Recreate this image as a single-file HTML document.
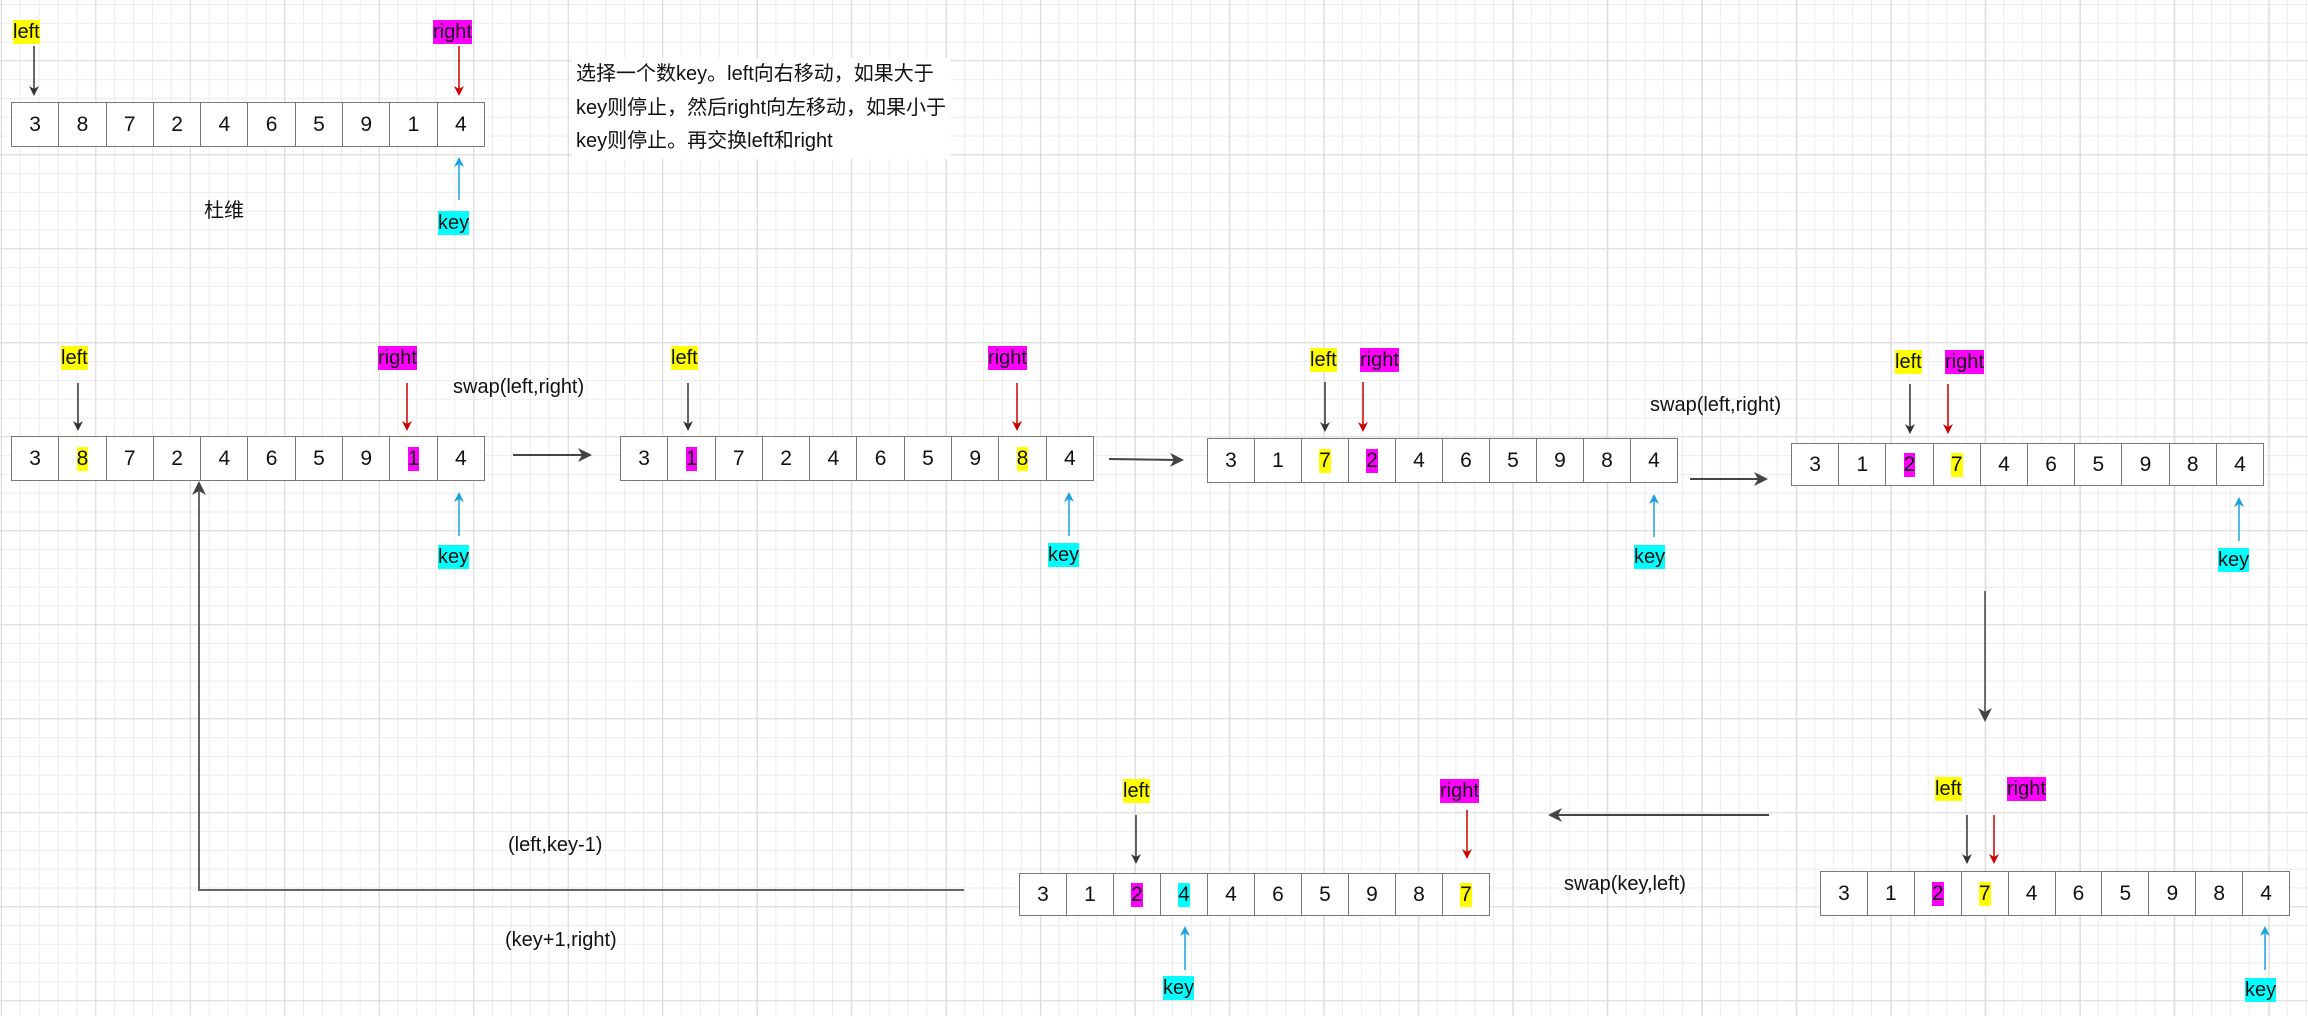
<!DOCTYPE html>
<html><head><meta charset="utf-8"><style>
body{margin:0;width:2308px;height:1016px;overflow:hidden;position:relative;background-color:#fff;
background-image:linear-gradient(to right,#d9d9d9 1px,transparent 1px),linear-gradient(to bottom,#d9d9d9 1px,transparent 1px),linear-gradient(to right,#ececec 1px,transparent 1px),linear-gradient(to bottom,#ececec 1px,transparent 1px);
background-size:94.5px 94px,94.5px 94px,18.9px 18.8px,18.9px 18.8px;
background-position:0.8px 60.3px,0.8px 60.3px,0.8px 4px,0.8px 4px;
font-family:"Liberation Sans","Noto Sans CJK SC",sans-serif;color:#111}
.a{position:absolute;display:flex;border:1.5px solid #777;background:#fff;box-sizing:border-box}
.a div{flex:1;border-left:1.5px solid #777;display:flex;align-items:center;justify-content:center;font-size:21px}
.a div:first-child{border-left:none}
.t{position:absolute;font-size:20px;line-height:24px;white-space:nowrap}
.y{background:#ff0}.m{background:#f0f}.c{background:#0ff}
svg{position:absolute;left:0;top:0}
</style></head><body>
<svg width="2308" height="1016">
<defs>
<marker id="k" markerWidth="10" markerHeight="10" refX="8" refY="5" orient="auto" markerUnits="userSpaceOnUse"><path d="M0,0 L10,5 L0,10 L3,5z" fill="#333"/></marker>
<marker id="r" markerWidth="10" markerHeight="10" refX="8" refY="5" orient="auto" markerUnits="userSpaceOnUse"><path d="M0,0 L10,5 L0,10 L3,5z" fill="#c00"/></marker>
<marker id="b" markerWidth="10" markerHeight="10" refX="8" refY="5" orient="auto" markerUnits="userSpaceOnUse"><path d="M0,0 L10,5 L0,10 L3,5z" fill="#1ba1e2"/></marker>
<marker id="g" markerWidth="14" markerHeight="14" refX="12" refY="7" orient="auto" markerUnits="userSpaceOnUse"><path d="M0,0 L14,7 L0,14 L4,7z" fill="#444"/></marker>
</defs>
<g stroke-width="1.5" fill="none">
<line x1="34" y1="46" x2="34" y2="94" stroke="#333" marker-end="url(#k)"/>
<line x1="459" y1="46" x2="459" y2="94" stroke="#c00" marker-end="url(#r)"/>
<line x1="459" y1="200" x2="459" y2="159" stroke="#1ba1e2" marker-end="url(#b)"/>
<line x1="78" y1="383" x2="78" y2="429" stroke="#333" marker-end="url(#k)"/>
<line x1="407" y1="383" x2="407" y2="429" stroke="#c00" marker-end="url(#r)"/>
<line x1="459" y1="536" x2="459" y2="494" stroke="#1ba1e2" marker-end="url(#b)"/>
<line x1="513" y1="455" x2="590" y2="455" stroke="#444" stroke-width="2" marker-end="url(#g)"/>
<line x1="688" y1="383" x2="688" y2="429" stroke="#333" marker-end="url(#k)"/>
<line x1="1017" y1="383" x2="1017" y2="429" stroke="#c00" marker-end="url(#r)"/>
<line x1="1069" y1="536" x2="1069" y2="494" stroke="#1ba1e2" marker-end="url(#b)"/>
<line x1="1109" y1="459" x2="1182" y2="460" stroke="#444" stroke-width="2" marker-end="url(#g)"/>
<line x1="1325" y1="382" x2="1325" y2="430" stroke="#333" marker-end="url(#k)"/>
<line x1="1363" y1="382" x2="1363" y2="430" stroke="#c00" marker-end="url(#r)"/>
<line x1="1654" y1="537" x2="1654" y2="496" stroke="#1ba1e2" marker-end="url(#b)"/>
<line x1="1690" y1="479" x2="1766" y2="479" stroke="#444" stroke-width="2" marker-end="url(#g)"/>
<line x1="1910" y1="384" x2="1910" y2="432" stroke="#333" marker-end="url(#k)"/>
<line x1="1948" y1="384" x2="1948" y2="432" stroke="#c00" marker-end="url(#r)"/>
<line x1="2239" y1="541" x2="2239" y2="499" stroke="#1ba1e2" marker-end="url(#b)"/>
<line x1="1985" y1="591" x2="1985" y2="720" stroke="#444" stroke-width="1.5" marker-end="url(#g)"/>
<line x1="1967" y1="815" x2="1967" y2="862" stroke="#333" marker-end="url(#k)"/>
<line x1="1994" y1="815" x2="1994" y2="862" stroke="#c00" marker-end="url(#r)"/>
<line x1="2265" y1="970" x2="2265" y2="928" stroke="#1ba1e2" marker-end="url(#b)"/>
<line x1="1769" y1="815" x2="1550" y2="815" stroke="#444" stroke-width="2" marker-end="url(#g)"/>
<line x1="1136" y1="815" x2="1136" y2="862" stroke="#333" marker-end="url(#k)"/>
<line x1="1467" y1="810" x2="1467" y2="857" stroke="#c00" marker-end="url(#r)"/>
<line x1="1185" y1="970" x2="1185" y2="928" stroke="#1ba1e2" marker-end="url(#b)"/>
<polyline points="964,890 199,890 199,483" stroke="#666" stroke-width="2" marker-end="url(#g)"/>
</g>
</svg>

<span class="t y" style="left:13px;top:20px">left</span>
<span class="t m" style="left:433px;top:20px">right</span>
<div class="a" style="left:11px;top:102px;width:474px;height:45px"><div>3</div><div>8</div><div>7</div><div>2</div><div>4</div><div>6</div><div>5</div><div>9</div><div>1</div><div>4</div></div>
<span class="t c" style="left:438px;top:211px">key</span>
<span class="t" style="left:204px;top:199px">杜维</span>
<div class="t" style="left:572px;top:58px;line-height:33.5px;background:#fff;padding:0 4px">选择一个数key。left向右移动，如果大于<br>key则停止，然后right向左移动，如果小于<br>key则停止。再交换left和right</div>

<span class="t y" style="left:61px;top:346px">left</span>
<span class="t m" style="left:378px;top:346px">right</span>
<span class="t" style="left:453px;top:375px">swap(left,right)</span>
<div class="a" style="left:11px;top:436px;width:474px;height:45px"><div>3</div><div><span class="y">8</span></div><div>7</div><div>2</div><div>4</div><div>6</div><div>5</div><div>9</div><div><span class="m">1</span></div><div>4</div></div>
<span class="t c" style="left:438px;top:545px">key</span>

<span class="t y" style="left:671px;top:346px">left</span>
<span class="t m" style="left:988px;top:346px">right</span>
<div class="a" style="left:620px;top:436px;width:474px;height:45px"><div>3</div><div><span class="m">1</span></div><div>7</div><div>2</div><div>4</div><div>6</div><div>5</div><div>9</div><div><span class="y">8</span></div><div>4</div></div>
<span class="t c" style="left:1048px;top:543px">key</span>

<span class="t y" style="left:1310px;top:348px">left</span>
<span class="t m" style="left:1360px;top:348px">right</span>
<div class="a" style="left:1207px;top:438px;width:471px;height:45px"><div>3</div><div>1</div><div><span class="y">7</span></div><div><span class="m">2</span></div><div>4</div><div>6</div><div>5</div><div>9</div><div>8</div><div>4</div></div>
<span class="t c" style="left:1634px;top:545px">key</span>
<span class="t" style="left:1650px;top:393px">swap(left,right)</span>

<span class="t y" style="left:1895px;top:350px">left</span>
<span class="t m" style="left:1945px;top:350px">right</span>
<div class="a" style="left:1791px;top:443px;width:473px;height:43px"><div>3</div><div>1</div><div><span class="m">2</span></div><div><span class="y">7</span></div><div>4</div><div>6</div><div>5</div><div>9</div><div>8</div><div>4</div></div>
<span class="t c" style="left:2218px;top:548px">key</span>

<span class="t y" style="left:1935px;top:777px">left</span>
<span class="t m" style="left:2007px;top:777px">right</span>
<div class="a" style="left:1820px;top:871px;width:470px;height:45px"><div>3</div><div>1</div><div><span class="m">2</span></div><div><span class="y">7</span></div><div>4</div><div>6</div><div>5</div><div>9</div><div>8</div><div>4</div></div>
<span class="t c" style="left:2245px;top:978px">key</span>
<span class="t" style="left:1564px;top:872px">swap(key,left)</span>

<span class="t y" style="left:1123px;top:779px">left</span>
<span class="t m" style="left:1440px;top:779px">right</span>
<div class="a" style="left:1019px;top:873px;width:471px;height:43px"><div>3</div><div>1</div><div><span class="m">2</span></div><div><span class="c">4</span></div><div>4</div><div>6</div><div>5</div><div>9</div><div>8</div><div><span class="y">7</span></div></div>
<span class="t c" style="left:1163px;top:976px">key</span>

<span class="t" style="left:508px;top:833px">(left,key-1)</span>
<span class="t" style="left:505px;top:928px">(key+1,right)</span>
</body></html>
